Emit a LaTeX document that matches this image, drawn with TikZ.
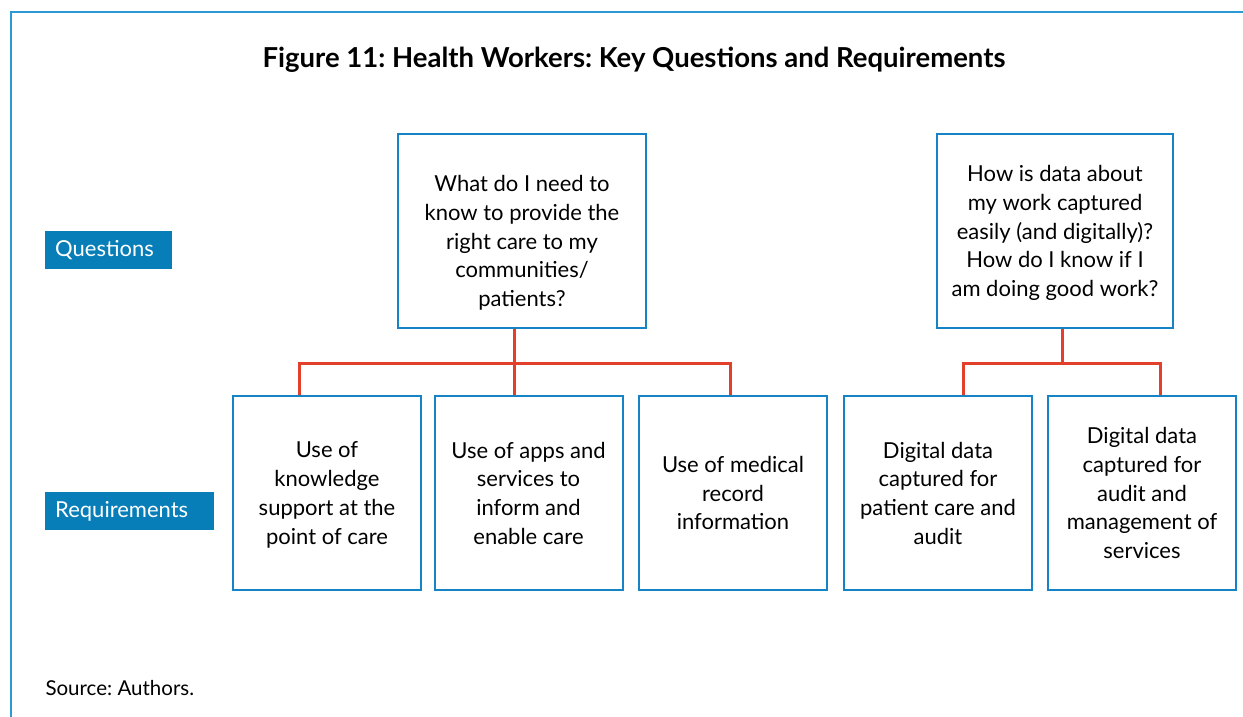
\documentclass[tikz,border=0pt]{standalone}
\usepackage{fontspec}
\setmainfont{Lato}
\usepackage{tikz}
\usetikzlibrary{positioning}
\definecolor{framecol}{HTML}{2B9AD2}
\definecolor{boxcol}{HTML}{1683C4}
\definecolor{tagcol}{HTML}{087EB9}
\definecolor{linkcol}{HTML}{E2402A}
\frenchspacing

\begin{document}
\begin{tikzpicture}[x=1pt,y=-1pt]
{\fontsize{22}{28.7}\selectfont
  \tikzstyle{qbox}=[rectangle,draw=boxcol,line width=2pt,align=center,
  minimum height=194pt,inner sep=0pt]
  \tikzstyle{rbox}=[qbox,minimum width=188pt,text depth=-3pt]
  \tikzstyle{tag}=[rectangle,fill=tagcol,text=white,anchor=north west,
  minimum height=38pt,inner xsep=10pt,inner ysep=0pt]
  \tikzstyle{link}=[draw=linkcol,line width=3pt]

  \useasboundingbox (0,0) rectangle (1243,717);
  \draw [framecol,line width=2pt] (1243,12) -- (11,12) -- (11,717);

  \node [font=\fontsize{27.5}{32}\selectfont\bfseries] (title) at (634,60)
    {Figure 11: Health Workers: Key Questions and Requirements};

  \node [tag,minimum width=127pt,text width=107pt] (tq) at (45,231) {Questions};
  \node [tag,minimum width=169pt,text width=149pt] (tr) at (45,492) {Requirements};

  \node [qbox,minimum width=248pt,
    label={[align=center,yshift=-12pt]center:What do I need to\\know to provide the\\right care to my\\communities/\\patients?}] (q1) at (522,231) {};
  \node [qbox,minimum width=236pt,
    label={[align=center,yshift=-2pt]center:How is data about\\my work captured\\easily (and digitally)?\\How do I know if I\\am doing good work?}] (q2) at (1055,231) {};

  \node [rbox] (r1) at (327,493) {Use of\\knowledge\\support at the\\point of care};
  \node [rbox] (r2) at (528.5,493) {Use of apps and\\services to\\inform and\\enable care};
  \node [rbox] (r3) at (733,493) {Use of medical\\record\\information};
  \node [rbox] (r4) at (938,493) {Digital data\\captured for\\patient care and\\audit};
  \node [rbox] (r5) at (1142,493) {Digital data\\captured for\\audit and\\management of\\services};

  \node [anchor=west,font=\fontsize{20.5}{24}\selectfont] (src) at (38,688) {Source: Authors.};

\draw [link] ([xshift=-8pt]q1.south) -- ++(0,34) coordinate (j1);
\draw [link] ([xshift=-28pt]r1.north) |- (j1) -| ([xshift=-3pt]r3.north);
\draw [link] (j1) -- (r2.north -| j1);
\draw [link] ([xshift=7pt]q2.south) -- ++(0,34) coordinate (j2);
\draw [link] ([xshift=25pt]r4.north) |- (j2) -| ([xshift=18pt]r5.north);
}
\end{tikzpicture}
\end{document}
